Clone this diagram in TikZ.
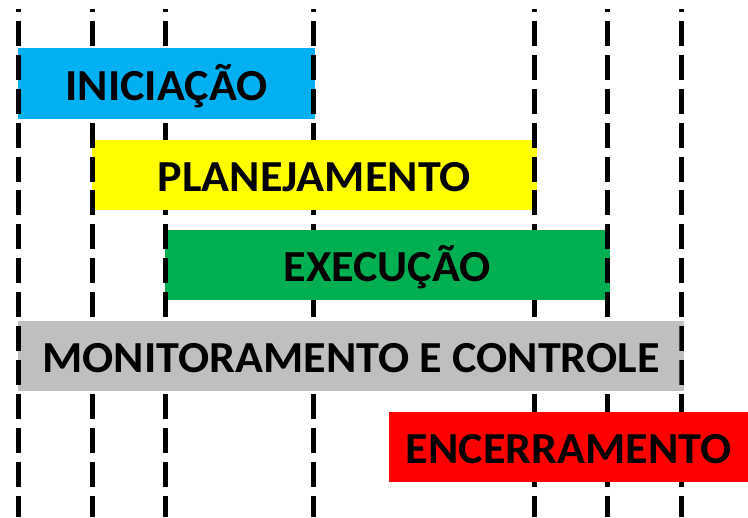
\documentclass[tikz,border=0pt]{standalone}
\usepackage{fontspec}
\setmainfont{Carlito}[FakeStretch=1.04]
\usepackage{tikz}
\usetikzlibrary{calc}

\definecolor{iniBlue}{RGB}{0,176,240}
\definecolor{planYellow}{RGB}{255,255,0}
\definecolor{execGreen}{RGB}{0,176,80}
\definecolor{monGray}{RGB}{191,191,191}
\definecolor{encRed}{RGB}{255,0,0}

\begin{document}
\begin{tikzpicture}[x=0.75pt, y=-0.75pt,
	guide/.style={line width=3.75pt, dash pattern=on 18.75pt off 6.675pt, dash phase=16.875pt},
	phase/.style={inner sep=0pt, minimum height=52.5pt, text height=24.8pt, text depth=0pt,
		font=\bfseries\fontsize{33.25}{36}\selectfont}]
			\useasboundingbox (0,0) rectangle (748,517);
			\def\gridX{18,92,165,313,534,607,681};

			\newcommand{\drawGuides}
			{
				\foreach \gx in \gridX
					\draw [guide] (\gx,9.5) -- (\gx,517);
			}

			\newcommand{\drawPhase}[6]
			{
				\node [phase, fill=#5, minimum width={(#3-#2)*0.75pt}] (#1) at ({(#2+#3)/2},#4) {#6};
			}

			% dashed time marks
			\drawGuides

			% process groups
			\drawPhase{ini}{18}{315}{83.5}{iniBlue}{INICIAÇÃO}
			\drawPhase{plan}{92}{536.5}{175}{planYellow}{PLANEJAMENTO}
			\drawPhase{exec}{165}{609.5}{265}{execGreen}{EXECUÇÃO}
			\drawPhase{mon}{18}{684}{355.7}{monGray}{MONITORAMENTO E CONTROLE}
			\drawPhase{enc}{389}{748}{446.5}{encRed}{ENCERRAMENTO}

			% marks stay visible on the bar edges
			\begin{scope}
				\clip ($(ini.north west)+(-5,0)$) rectangle ($(ini.south west)+(5,0)$)
					($(ini.north east)+(-5,0)$) rectangle ($(ini.south east)+(5,0)$)
					($(plan.north west)+(-5,0)$) rectangle ($(plan.south west)+(5,0)$)
					($(plan.north east)+(-5,0)$) rectangle ($(plan.south east)+(5,0)$)
					($(exec.north west)+(-5,0)$) rectangle ($(exec.south west)+(5,0)$)
					($(exec.north east)+(-5,0)$) rectangle ($(exec.south east)+(5,0)$)
					($(mon.north west)+(-5,0)$) rectangle ($(mon.south west)+(5,0)$)
					($(mon.north east)+(-5,0)$) rectangle ($(mon.south east)+(5,0)$);
				\drawGuides
			\end{scope}
		\end{tikzpicture}
\end{document}
